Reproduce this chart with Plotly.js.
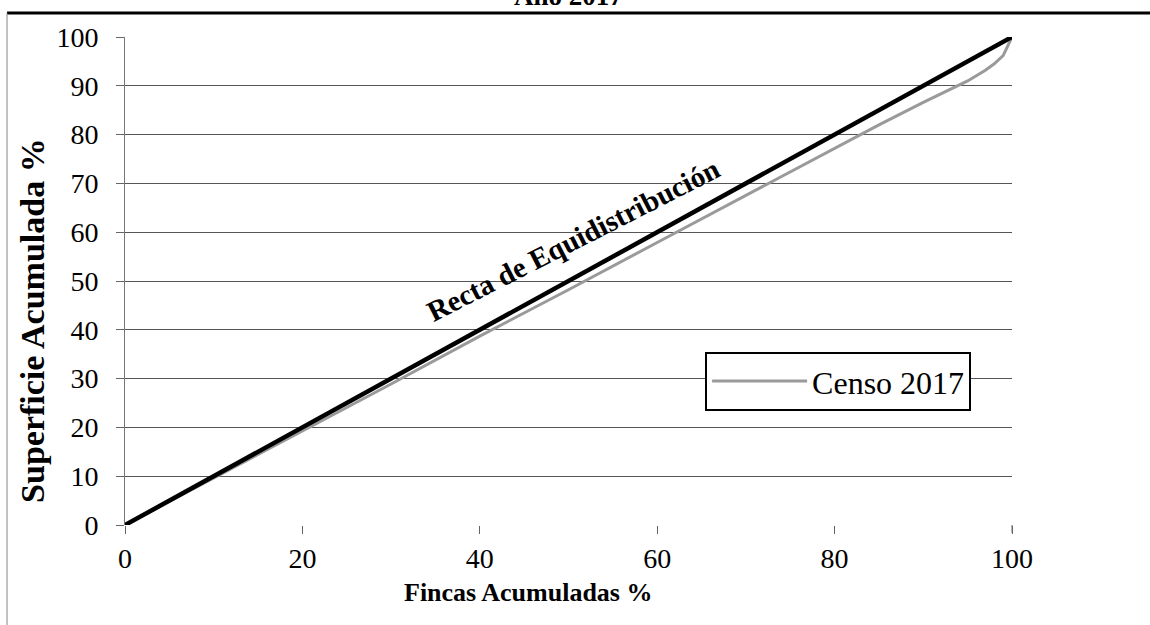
<!DOCTYPE html>
<html>
<head>
<meta charset="utf-8">
<script src="https://cdn.plot.ly/plotly-3.0.1.min.js"></script>
<style>
html,body{margin:0;padding:0;background:#fff;}
#chart{width:1150px;height:625px;}
</style>
</head>
<body>
<div id="chart"></div>
<script>
// Data
const fincasAcum = [0, 10, 20, 30, 40, 50, 60, 70, 80, 85, 90, 93, 95, 97, 98, 99, 100];
const superficieAcum = [0, 9.6, 19.2, 28.9, 38.7, 48.2, 57.9, 67.6, 77.3, 82.0, 86.6, 89.2, 91.0, 93.2, 94.5, 96.2, 100];
const equiX = [0, 100];
const equiY = [0, 100];
const serieNombre = 'Censo 2017';
const tituloTexto = 'Año 2017';
const rectaTexto = 'Recta de Equidistribución';
const xTitulo = 'Fincas Acumuladas %';
const yTitulo = 'Superficie Acumulada %';

const serif = 'Liberation Serif, Times New Roman, serif';

const traces = [
  {x: fincasAcum, y: superficieAcum, mode: 'lines', name: serieNombre, line: {color: '#9a9a9a', width: 3}},
  {x: equiX, y: equiY, mode: 'lines', line: {color: '#000', width: 4.5}, showlegend: false, hoverinfo: 'skip'}
];

const layout = {
  width: 1150, height: 625,
  margin: {l: 125, r: 138, t: 37, b: 100},
  paper_bgcolor: '#fff', plot_bgcolor: '#fff',
  font: {family: serif, color: '#000', size: 28},
  showlegend: true,
  legend: {x: 0.654, y: 0.355, xanchor: 'left', yanchor: 'top', bordercolor: '#000', borderwidth: 2,
           bgcolor: '#fff', font: {family: serif, size: 32, color: '#000'}, itemwidth: 95, tracegroupgap: 0},
  xaxis: {range: [0, 100], tickvals: [0, 20, 40, 60, 80, 100], showgrid: false, zeroline: false,
          showline: false, ticks: 'outside', ticklen: 8, tickcolor: '#666', tickwidth: 1,
          tickfont: {family: serif, size: 28}, fixedrange: true},
  yaxis: {range: [0, 100], tickvals: [0,10,20,30,40,50,60,70,80,90,100], showgrid: true, gridcolor: '#555', gridwidth: 1,
          zeroline: false, showline: true, linecolor: '#777', linewidth: 1, ticks: 'outside', ticklen: 8,
          ticklabelstandoff: 12, tickcolor: '#666', tickfont: {family: serif, size: 28}, fixedrange: true},
  annotations: [
    {text: '<b>' + tituloTexto + '</b>', xref: 'paper', yref: 'paper', x: 0.5, y: 1.05, xanchor: 'center', yanchor: 'bottom',
     showarrow: false, font: {family: serif, size: 27}},
    {text: '<b>' + xTitulo + '</b>', xref: 'paper', yref: 'paper', x: 0.455, y: -0.105, xanchor: 'center', yanchor: 'top',
     showarrow: false, font: {family: serif, size: 26}},
    {text: '<b>' + yTitulo + '</b>', xref: 'paper', yref: 'paper', x: -0.105, y: 0.42, xanchor: 'center', yanchor: 'middle',
     textangle: -90, showarrow: false, font: {family: serif, size: 34}},
    {text: '<b>' + rectaTexto + '</b>', xref: 'x', yref: 'y', x: 50.5, y: 58.5, xanchor: 'center', yanchor: 'middle',
     textangle: -27, showarrow: false, font: {family: serif, size: 29}}
  ],
  shapes: [
    {type: 'line', xref: 'paper', yref: 'paper', x0: -0.133, x1: 1.2, y0: 1.049, y1: 1.049, line: {color: '#000', width: 3}},
    {type: 'line', xref: 'paper', yref: 'paper', x0: -0.133, x1: -0.133, y0: 1.049, y1: -0.3, line: {color: '#888', width: 1}},
    {type: 'line', xref: 'paper', yref: 'paper', x0: 1.0, x1: 1.0, y0: 0, y1: -0.016, line: {color: '#666', width: 1}}
  ]
};

Plotly.newPlot('chart', traces, layout, {displayModeBar: false, staticPlot: true});
</script>
</body>
</html>
